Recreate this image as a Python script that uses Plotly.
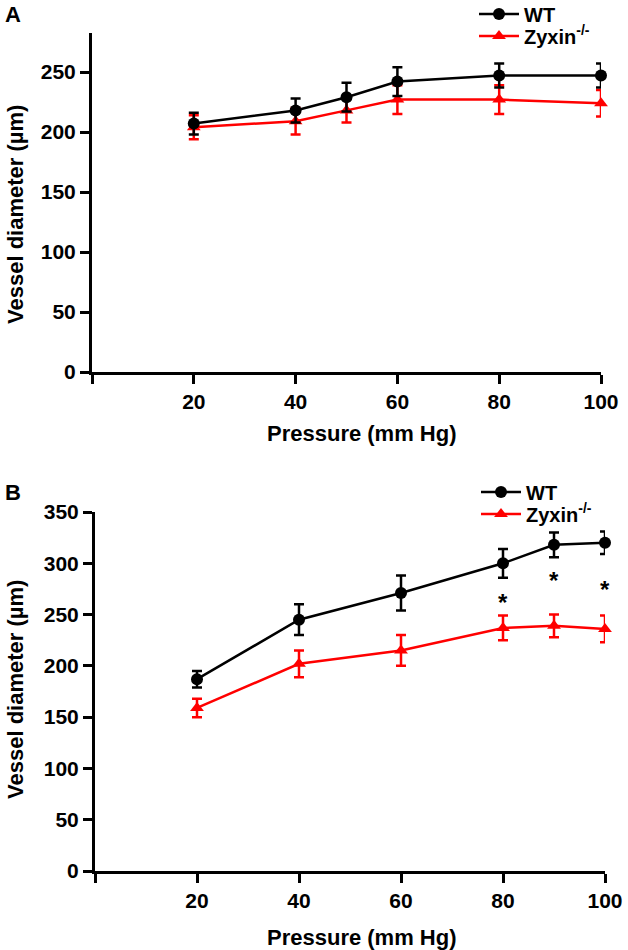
import plotly.graph_objects as go

# Panel A data ==========================================================================
pressure_a = [20, 40, 50, 60, 80, 100]
wt_a = [207, 218, 229, 242, 247, 247]
wt_a_err = [9, 10, 12, 12, 10, 10]
zyx_a = [204, 209, 218, 227, 227, 224]
zyx_a_err = [10, 11, 10, 12, 12, 11]

# Panel B data ==========================================================================
pressure_b = [20, 40, 60, 80, 90, 100]
wt_b = [187, 245, 271, 300, 318, 320]
wt_b_err = [8, 15, 17, 14, 12, 11]
zyx_b = [159, 202, 215, 237, 239, 236]
zyx_b_err = [9, 13, 15, 12, 11, 13]

# significance stars in panel B
sig_x = [80, 90, 100]
sig_y = [262, 283, 274]

x_tickvals = [0, 20, 40, 60, 80, 100]
x_ticktext = ["", "20", "40", "60", "80", "100"]
ya_tickvals = [0, 50, 100, 150, 200, 250]
yb_tickvals = [0, 50, 100, 150, 200, 250, 300, 350]

W, H = 628, 950
FONT = "Liberation Sans, Arial, sans-serif"
RED = "#ff0000"


def px_x(v):
    # page pixel -> paper fraction
    return v / W


def px_y(v):
    return 1 - v / H


def add_series(fig, x, y, err, name, color, symbol, xa, ya, legend):
    fig.add_trace(go.Scatter(
        x=x, y=y, name=name, mode="lines+markers",
        xaxis=xa, yaxis=ya, legend=legend, cliponaxis=False,
        line=dict(color=color, width=2.5),
        marker=dict(color=color, symbol=symbol, size=12),
        error_y=dict(type="data", array=err, color=color, thickness=2.5, width=5),
    ))


fig = go.Figure()
zyx_name = "Zyxin<sup>-/-</sup>"
# red first so black sits on top
add_series(fig, pressure_a, zyx_a, zyx_a_err, zyx_name, RED, "triangle-up", "x", "y", "legend2")
add_series(fig, pressure_a, wt_a, wt_a_err, "WT", "black", "circle", "x", "y", "legend")
add_series(fig, pressure_b, zyx_b, zyx_b_err, zyx_name, RED, "triangle-up", "x2", "y2", "legend4")
add_series(fig, pressure_b, wt_b, wt_b_err, "WT", "black", "circle", "x2", "y2", "legend3")

axis_common = dict(showline=True, linewidth=3, linecolor="black", ticks="outside",
                   ticklen=9, tickwidth=3, tickcolor="black", showgrid=False, zeroline=False,
                   tickfont=dict(family=FONT, size=21, color="black", weight="bold"))

legend_common = dict(xanchor="left", yanchor="middle", bgcolor="rgba(0,0,0,0)",
                     font=dict(family=FONT, size=20, color="black", weight="bold"),
                     itemwidth=40, borderwidth=0, visible=True)

fig.update_layout(
    width=W, height=H, showlegend=True,
    margin=dict(l=0, r=0, t=0, b=0, autoexpand=False),
    paper_bgcolor="white", plot_bgcolor="white",
    font=dict(family=FONT, size=21, color="black", weight="bold"),
    xaxis=dict(domain=[px_x(92), px_x(601)], range=[0, 100], anchor="y",
               tickvals=x_tickvals, ticktext=x_ticktext, **axis_common),
    yaxis=dict(domain=[px_y(372), px_y(33)], range=[0, 282.5], anchor="x",
               tickvals=ya_tickvals, **axis_common),
    xaxis2=dict(domain=[px_x(95), px_x(605)], range=[0, 100], anchor="y2",
                tickvals=x_tickvals, ticktext=x_ticktext, **axis_common),
    yaxis2=dict(domain=[px_y(871), px_y(512)], range=[0, 350], anchor="x2",
                tickvals=yb_tickvals, **axis_common),
    legend=dict(x=px_x(474), y=px_y(14), **legend_common),
    legend2=dict(x=px_x(474), y=px_y(36), **legend_common),
    legend3=dict(x=px_x(476), y=px_y(492), **legend_common),
    legend4=dict(x=px_x(476), y=px_y(514), **legend_common),
)

bold = dict(family=FONT, size=22, color="black", weight="bold")
notes = [
    dict(text="A", x=px_x(13), y=px_y(14)),
    dict(text="B", x=px_x(13), y=px_y(492)),
    dict(text="Pressure (mm Hg)", x=px_x(362), y=px_y(433)),
    dict(text="Pressure (mm Hg)", x=px_x(362), y=px_y(937)),
    dict(text="Vessel diameter (µm)", x=px_x(15), y=px_y(215), textangle=-90),
    dict(text="Vessel diameter (µm)", x=px_x(15), y=px_y(690), textangle=-90),
]
for n in notes:
    fig.add_annotation(xref="paper", yref="paper", showarrow=False,
                       xanchor="center", yanchor="middle", font=bold, **n)

for sx, sy in zip(sig_x, sig_y):
    fig.add_annotation(x=sx, y=sy, xref="x2", yref="y2", text="*", showarrow=False,
                       font=dict(family=FONT, size=24, color="black", weight="bold"))

# drop the default 8px body margin so the figure fills the window
fig.write_html("out.html", config={"displayModeBar": False},
               post_script="document.body.style.margin='0px';")
